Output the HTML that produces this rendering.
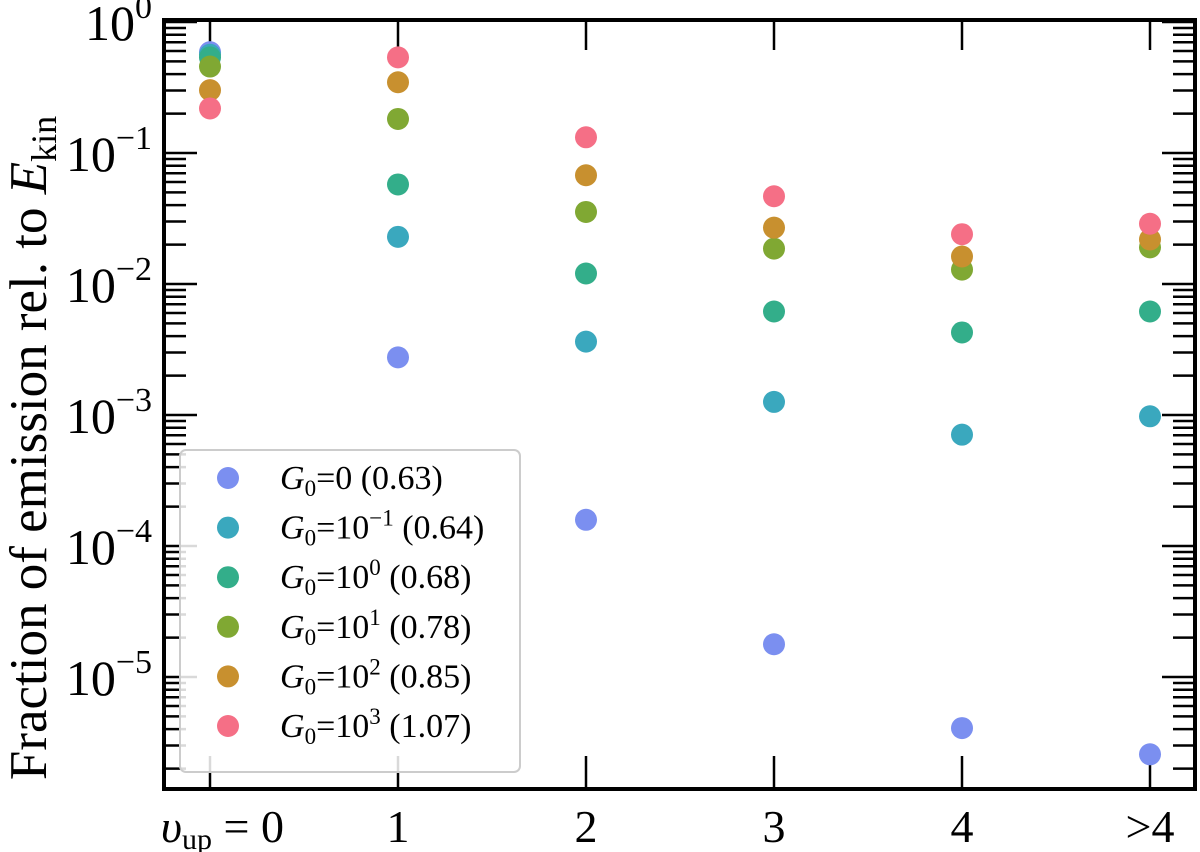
<!DOCTYPE html>
<html><head><meta charset="utf-8"><style>
body{margin:0;background:#fff}
svg{display:block;font-family:"Liberation Serif",serif}
</style></head><body>
<svg id="chart" width="1200" height="852" viewBox="0 0 1200 852">
<g id="ticks"></g>
<g id="marks"></g>
<rect x="164" y="20" width="1031" height="769" fill="none" stroke="#000" stroke-width="4"/>
<text transform="translate(46,448) rotate(-90)" text-anchor="middle" font-size="53">Fraction of emission rel. to <tspan font-style="italic">E</tspan><tspan font-size="36" dy="10">kin</tspan></text>
<g id="legend">
<rect x="180" y="450" width="340" height="322" rx="6" fill="#fff" fill-opacity="0.85" stroke="#ccc" stroke-width="2"/>
</g>
</svg>
<script>
const categories = ["0","1","2","3","4",">4"];
const seriesNames = ["0 (0.63)","−1 (0.64)","0 (0.68)","1 (0.78)","2 (0.85)","3 (1.07)"];
const seriesColors = ["#7b8ff0","#3aa8be","#33ae8a","#80a833","#c8902f","#f56f86"];
const logG0 = [-0.23,-2.56,-3.80,-4.75,-5.39,-5.59];
const logG0m1 = [-0.25,-1.64,-2.44,-2.90,-3.15,-3.01];
const logG00 = [-0.27,-1.24,-1.92,-2.21,-2.37,-2.21];
const logG01 = [-0.34,-0.74,-1.45,-1.73,-1.89,-1.72];
const logG02 = [-0.52,-0.46,-1.17,-1.57,-1.79,-1.66];
const logG03 = [-0.66,-0.27,-0.88,-1.33,-1.62,-1.54];
const yTickExps = [0,-1,-2,-3,-4,-5];
const series = [logG0,logG0m1,logG00,logG01,logG02,logG03];
const NS="http://www.w3.org/2000/svg";
const X0=164,X1=1195,Y0=20,Y1=789;
function xs(i){return 210+188*i;}
function ys(l){return 22-131*l;}
function mk(t,a,p){const e=document.createElementNS(NS,t);for(const k in a)e.setAttribute(k,a[k]);p.appendChild(e);return e;}
const tg=document.getElementById('ticks'), mg=document.getElementById('marks'), lg=document.getElementById('legend');
for(let d=0; d>=-6; d--){
  for(let m=1;m<10;m++){
    const y=ys(d+Math.log10(m));
    if(y<Y0||y>Y1)continue;
    const L=m===1?33:22;
    const t1=mk('line',{x1:X0,x2:X0+L,y1:y,y2:y,stroke:'#000','stroke-width':2.5},tg);
    
    
    const t2=mk('line',{x1:X1-L,x2:X1,y1:y,y2:y,stroke:'#000','stroke-width':2.5},tg);
    
    
  }
}
yTickExps.forEach(e=>{
  const t=mk('text',{x:152,y:ys(e)+18,'text-anchor':'end','font-size':50},tg);
  
  
  t.innerHTML='10<tspan font-size="34" dy="-22">'+(e===0?'0':'−'+(-e))+'</tspan>';
});
categories.forEach((c,i)=>{
  const x=xs(i);
  const a=mk('line',{x1:x,x2:x,y1:Y1-33,y2:Y1,stroke:'#000','stroke-width':2.5},tg);
  
  
  const b=mk('line',{x1:x,x2:x,y1:Y0,y2:Y0+30,stroke:'#000','stroke-width':2.5},tg);
  
  
  const t=mk('text',{x:x,y:842,'text-anchor':'middle','font-size':46},tg);
  
  
  if(i===0){t.setAttribute('text-anchor','end');t.setAttribute('x',x+74);t.innerHTML='<tspan font-style="italic">υ</tspan><tspan font-size="30" dy="7">up</tspan><tspan dy="-7"> = 0</tspan>';}
  else t.textContent=c;
});
series.forEach((s,k)=>{
  s.forEach((v,i)=>{
    const c=mk('circle',{cx:xs(i),cy:ys(v),r:11,fill:seriesColors[k]},mg);
    
    
  });
  const y=478+49.6*k;
  const lc=mk('circle',{cx:228,cy:y,r:11,fill:seriesColors[k]},lg);
  
  
  const lt=mk('text',{x:280,y:y+11,'font-size':34},lg);
  
  
  const nm=seriesNames[k];
  if(k===0) lt.innerHTML='<tspan font-style="italic">G</tspan><tspan font-size="23" dy="7">0</tspan><tspan dy="-7">=0 (0.63)</tspan>';
  else { const sp=nm.indexOf(' '); lt.innerHTML='<tspan font-style="italic">G</tspan><tspan font-size="23" dy="7">0</tspan><tspan dy="-7">=10</tspan><tspan font-size="23" dy="-13">'+nm.slice(0,sp)+'</tspan><tspan dy="13">'+nm.slice(sp)+'</tspan>'; }
});
</script>
</body></html>
